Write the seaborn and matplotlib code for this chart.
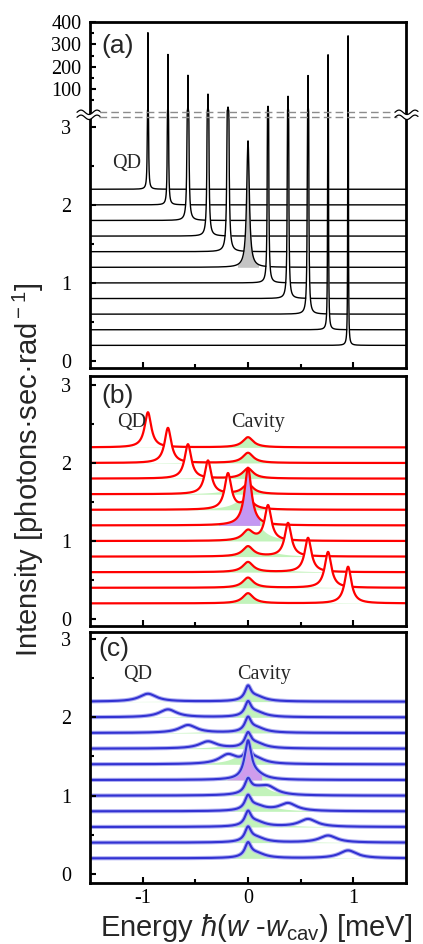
import numpy as np
import matplotlib
matplotlib.use("Agg")
import matplotlib.pyplot as plt
import seaborn as sns
from matplotlib.lines import Line2D
from matplotlib.patches import Polygon
from matplotlib.ticker import FixedLocator, FixedFormatter

# ---------------- data ----------------
detuning = [-0.95, -0.76, -0.57, -0.38, -0.19, 0.0, 0.19, 0.38, 0.57, 0.76, 0.95]
offsets = [2.2, 2.0, 1.8, 1.6, 1.4, 1.2, 1.0, 0.8, 0.6, 0.4, 0.2]
resonant = 5

# panel (a): QD line peak heights and half widths [meV]
a_height = [350, 253, 160, 76, 18, 1.62, 22, 67, 160, 253, 338]
a_width = [0.0003, 0.0004, 0.0008, 0.0012, 0.003, 0.015, 0.002, 0.0012, 0.0008, 0.0004, 0.0003]

# panel (b): QD peak heights / cavity bump heights
b_qd_height = [0.45, 0.45, 0.44, 0.43, 0.46, 0.74, 0.45, 0.43, 0.44, 0.46, 0.47]
b_qd_width = [0.038, 0.038, 0.038, 0.038, 0.038, 0.04, 0.038, 0.038, 0.038, 0.038, 0.038]
b_cav_height = [0.13, 0.13, 0.13, 0.13, 0.13, 0.0, 0.13, 0.13, 0.13, 0.13, 0.13]
b_cav_width = 0.06

# panel (c): QD peak heights / widths, cavity peak (main + right shoulder)
c_qd_height = [0.10, 0.10, 0.10, 0.09, 0.12, 0.30, 0.10, 0.10, 0.10, 0.09, 0.10]
c_qd_width = [0.10, 0.10, 0.10, 0.10, 0.10, 0.04, 0.10, 0.10, 0.10, 0.10, 0.10]
c_cav_height = 0.17
c_cav_width = 0.035
c_shoulder = (0.08, 0.06, 0.10)   # position, height, half width

# bare cavity (green shading)
bare_cav = (0.03, 0.32, 0.10)

y_major_a = [0, 1, 2, 3, 100, 200, 300, 400]
y_major_a_labels = ["0", "1", "2", "3", "100", "200", "300", "400"]
y_minor_a = [0.5, 1.5, 2.5, 50, 150, 250, 350]
y_major = [0, 1, 2, 3]
y_major_labels = ["0", "1", "2", "3"]
y_minor = [0.5, 1.5, 2.5]
x_major = [-1, 0, 1]
x_major_labels = ["-1", "0", "1"]
x_minor = [-0.5, 0.5]

# ---------------- style ----------------
sns.set_theme(style="ticks")
plt.rcParams["font.family"] = ["Liberation Serif", "DejaVu Serif"]
plt.rcParams["axes.unicode_minus"] = False
plt.rcParams["mathtext.fontset"] = "custom"
plt.rcParams["mathtext.rm"] = "Liberation Sans"
plt.rcParams["mathtext.it"] = "Liberation Sans:italic"
plt.rcParams["mathtext.bf"] = "Liberation Sans:bold"

W, H = 423, 944
fig = plt.figure(figsize=(W / 100, H / 100), dpi=100)


def fx(px):
    return px / W


def fy(py):
    return 1 - py / H


def lor(x, x0, h, w):
    return h / (1 + ((x - x0) / w) ** 2)


# x grid (dense near the narrow lines)
parts = [np.linspace(-1.5, 1.5, 6001)]
for d, w in zip(detuning, a_width):
    parts.append(d + w * np.tan(np.linspace(-1.565, 1.565, 1001)))
x = np.unique(np.concatenate(parts))
x = x[(x >= -1.5) & (x <= 1.5)]


# broken scale for panel (a)
def fwd(v):
    v = np.asarray(v, dtype=float)
    return np.where(v <= 3.13, v,
                    np.where(v <= 4.13, 3.13 + (v - 3.13) * 0.0792,
                             3.1974 + 0.002863 * v))


def inv(f):
    f = np.asarray(f, dtype=float)
    return np.where(f <= 3.13, f,
                    np.where(f <= 3.2092, 3.13 + (f - 3.13) / 0.0792,
                             (f - 3.1974) / 0.002863))


def make_ax(top, bottom):
    ax = fig.add_axes([fx(90), fy(bottom), fx(406) - fx(90), (bottom - top) / H])
    return ax


ax_a = make_ax(22, 368)
ax_b = make_ax(376, 626)
ax_c = make_ax(632, 883)

green = "#c2f3bb"


def draw_trace(ax, y, base, color, z, special=None, lw=1.0, halo=None, bare=True):
    ax.fill_between(x, base, y, color="white", lw=0, zorder=z)
    if bare:
        g = lor(x, bare_cav[0], bare_cav[1], bare_cav[2])
        ax.fill_between(x, base, base + np.minimum(g, y - base), color=green, lw=0, zorder=z)
    if special is not None:
        lo, hi, fc = special
        m = (x >= lo) & (x <= hi)
        ax.fill_between(x[m], base, y[m], color=fc, lw=0, zorder=z)
    if halo is not None:
        sns.lineplot(x=x, y=y, ax=ax, color=halo, lw=lw * 2.0, sort=False,
                     estimator=None, zorder=z)
    sns.lineplot(x=x, y=y, ax=ax, color=color, lw=lw, sort=False,
                 estimator=None, zorder=z)


# ---------------- panel (a) ----------------
ax_a.set_yscale("function", functions=(fwd, inv))
for i, (d, base) in enumerate(zip(detuning, offsets)):
    y = base + lor(x, d, a_height[i], a_width[i])
    sp = (-0.1, 0.1, "#c4c4c4") if i == resonant else None
    draw_trace(ax_a, y, base, "black", 10 + i, special=sp, lw=1.0, bare=False)
ax_a.set_ylim(-0.09, 400)
ax_a.yaxis.set_major_locator(FixedLocator(y_major_a))
ax_a.yaxis.set_major_formatter(FixedFormatter(y_major_a_labels))
ax_a.yaxis.set_minor_locator(FixedLocator(y_minor_a))
for yy in (3.13, 3.87):
    ax_a.axhline(yy, xmin=0.03, xmax=0.97, color="#8c8c8c", lw=1.0,
                 ls=(0, (5.5, 3)), zorder=60)

# ---------------- panel (b) ----------------
for i, (d, base) in enumerate(zip(detuning, offsets)):
    y = base + lor(x, d, b_qd_height[i], b_qd_width[i]) + lor(x, 0.0, b_cav_height[i], b_cav_width)
    sp = (-0.28, 0.11, "#c497f2") if i == resonant else None
    draw_trace(ax_b, y, base, "#ff0000", 10 + i, special=sp, lw=1.6)
ax_b.set_ylim(-0.09, 3.115)

# ---------------- panel (c) ----------------
for i, (d, base) in enumerate(zip(detuning, offsets)):
    y = (base + lor(x, d, c_qd_height[i], c_qd_width[i])
         + lor(x, 0.0, c_cav_height, c_cav_width)
         + lor(x, c_shoulder[0], c_shoulder[1], c_shoulder[2]))
    sp = (-0.2, 0.13, "#cf9cec") if i == resonant else None
    draw_trace(ax_c, y, base, "#3232d2", 10 + i, special=sp, lw=1.5, halo="#aeaef2")
ax_c.set_ylim(-0.115, 3.089)

# ---------------- common axes styling ----------------
for ax in (ax_a, ax_b, ax_c):
    ax.set_xlim(-1.5, 1.5)
    ax.set_xlabel("")
    ax.set_ylabel("")
    ax.xaxis.set_major_locator(FixedLocator(x_major))
    ax.xaxis.set_major_formatter(FixedFormatter(x_major_labels))
    ax.xaxis.set_minor_locator(FixedLocator(x_minor))
    if ax is not ax_a:
        ax.yaxis.set_major_locator(FixedLocator(y_major))
        ax.yaxis.set_major_formatter(FixedFormatter(y_major_labels))
        ax.yaxis.set_minor_locator(FixedLocator(y_minor))
    ax.tick_params(which="both", direction="in", left=True, right=False,
                   top=False, bottom=True, width=1.5, colors="black")
    ax.tick_params(which="major", length=4.5)
    ax.tick_params(which="minor", length=3.0)
    ax.tick_params(axis="y", which="major", labelsize=14.5, pad=17)
    ax.tick_params(axis="x", which="major", labelsize=14.5, pad=4)
    for lab in ax.get_yticklabels():
        lab.set_horizontalalignment("center")
    for s in ax.spines.values():
        s.set_visible(True)
        s.set_linewidth(2.0)
        s.set_color("black")
        s.set_zorder(100)
    ax.xaxis.set_zorder(101)
    ax.yaxis.set_zorder(101)
    ax.set_facecolor("white")

ax_a.tick_params(axis="x", labelbottom=False)
ax_b.tick_params(axis="x", labelbottom=False)

ax_c.set_xlabel(r"Energy $\hbar$($w$ -$w_{\rm cav}$) [meV]",
                family=["Liberation Sans", "DejaVu Sans"], fontsize=21)
ax_c.xaxis.set_label_coords((256 - 90) / 316, -(936 - 883) / 251)
ax_c.xaxis.label.set_verticalalignment("baseline")

fig.text(fx(28), fy(470), "Intensity [photons·sec·rad$^{\\rm -1}$]",
         family=["Liberation Sans", "DejaVu Sans"], fontsize=21,
         rotation=90, ha="center", va="center")

# panel labels
for lab, px, py in (("(a)", 101, 46), ("(b)", 101, 396), ("(c)", 98, 649)):
    fig.text(fx(px), fy(py), lab, family=["Liberation Sans", "DejaVu Sans"],
             fontsize=19, ha="left", va="center", zorder=200)

# annotations
for txt, px, py in (("QD", 112, 168), ("QD", 117, 427), ("Cavity", 231, 427),
                    ("QD", 123, 679), ("Cavity", 237, 679)):
    fig.text(fx(px), fy(py), txt, fontsize=14.5, ha="left", va="baseline", zorder=200)

# axis-break marks on panel (a)
for x0 in (77, 395):
    xs = np.linspace(x0, x0 + 23, 60)
    w1 = 112.3 - 2.2 * np.sin(2 * np.pi * (xs - x0) / 16.0)
    w2 = 117.3 - 2.2 * np.sin(2 * np.pi * (xs - x0) / 16.0)
    pts = np.column_stack([np.r_[fx(xs), fx(xs[::-1])], np.r_[fy(w1), fy(w2[::-1])]])
    fig.add_artist(Polygon(pts, closed=True, fc="white", ec="none",
                           transform=fig.transFigure, zorder=50))
    for ww in (w1, w2):
        fig.add_artist(Line2D(fx(xs), fy(ww), color="black", lw=0.9,
                              transform=fig.transFigure, zorder=51))

fig.savefig("out.png", dpi=100, facecolor="white")
